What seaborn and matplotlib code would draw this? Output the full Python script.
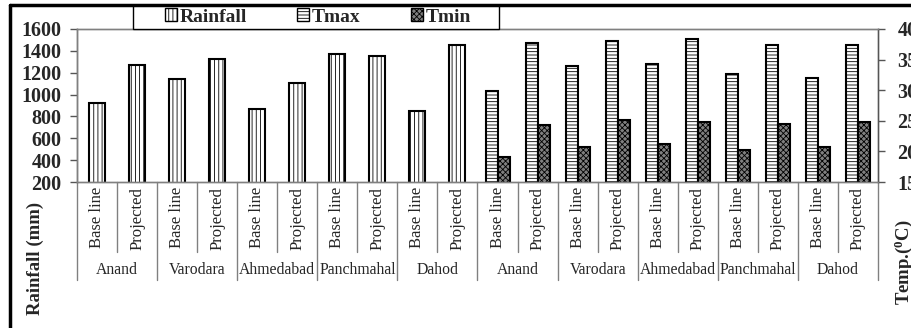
import numpy as np
import pandas as pd
import seaborn as sns
import matplotlib.pyplot as plt
from matplotlib.patches import Patch, Rectangle
from matplotlib.lines import Line2D
import matplotlib.transforms as mtransforms

districts = ["Anand", "Varodara", "Ahmedabad", "Panchmahal", "Dahod"]
periods = ["Base line", "Projected"]

# rainfall (mm), base line / projected per district
rainfall = [920, 1270, 1140, 1330, 870, 1110, 1370, 1350, 850, 1450]
# temperature (deg C)
tmax = [29.8, 37.7, 34.0, 38.1, 34.3, 38.4, 32.6, 37.4, 32.0, 37.4]
tmin = [19.1, 24.3, 20.7, 25.2, 21.2, 24.8, 20.2, 24.4, 20.7, 24.8]

rain_ticks = [200, 400, 600, 800, 1000, 1200, 1400, 1600]
temp_ticks = [15, 20, 25, 30, 35, 40]

sns.set_style("ticks")
plt.rcParams["font.family"] = ["Liberation Serif", "DejaVu Serif"]
plt.rcParams["mathtext.fontset"] = "custom"
plt.rcParams["mathtext.rm"] = "Liberation Serif:bold"
plt.rcParams["mathtext.it"] = "Liberation Serif:bold"
plt.rcParams["hatch.linewidth"] = 0.6

tmin_face = "#808080"

# 20 slots: first 10 rainfall, next 10 temperature
slots = ["r%d" % i for i in range(10)] + ["t%d" % i for i in range(10)]
rain_df = pd.DataFrame({"slot": slots[:10], "value": rainfall})
temp_df = pd.DataFrame({
    "slot": slots[10:] * 2,
    "var": ["Tmax"] * 10 + ["Tmin"] * 10,
    "value": tmax + tmin,
})

fig = plt.figure(figsize=(9.12, 3.28), dpi=100)
ax1 = fig.add_axes([77 / 912, 1 - 182 / 328, (878 - 77) / 912, (182 - 29) / 328])
ax2 = ax1.twinx()

sns.barplot(data=rain_df, x="slot", y="value", order=slots, width=0.4,
            color="white", edgecolor="black", linewidth=1.5, ax=ax1)
for p in ax1.patches:
    p.set_hatch("||||")
    p.set_facecolor("white")

sns.barplot(data=temp_df, x="slot", y="value", order=slots, hue="var",
            hue_order=["Tmax", "Tmin"], width=0.6, dodge=True,
            palette=["white", tmin_face], edgecolor="black", linewidth=1.5,
            legend=False, ax=ax2)
for p in ax2.patches:
    if p.get_facecolor()[0] > 0.9:
        p.set_hatch("-----")
    else:
        p.set_hatch("xxxxxx")

ax1.set_ylim(200, 1600)
ax1.set_yticks(rain_ticks)
ax2.set_ylim(15, 40)
ax2.set_yticks(temp_ticks)
ax1.set_xlim(-0.5, 19.5)
for ax in (ax1, ax2):
    ax.set_xlabel("")
    ax.set_ylabel("")
    ax.tick_params(axis="x", length=0, labelbottom=False)
ax1.tick_params(axis="y", length=5, width=1, color="#555555", pad=6,
                labelsize=14.5)
ax2.tick_params(axis="y", length=5, width=1, color="#555555", pad=9,
                labelsize=14.5)
for lab in ax1.get_yticklabels() + ax2.get_yticklabels():
    lab.set_fontweight("bold")

for ax in (ax1, ax2):
    for s in ax.spines.values():
        s.set_color("#808080")
        s.set_linewidth(1)
ax2.spines["right"].set_color("#555555")
ax1.spines["left"].set_color("#555555")

# multi-level category axis below the plot
trans = mtransforms.blended_transform_factory(ax1.transData, ax1.transAxes)
h = ax1.get_position().height * 328
def ay(px):
    return -px / h

for i in range(21):
    x = i - 0.5
    depth = 98 if i % 2 == 0 else 70
    ax1.add_line(Line2D([x, x], [0, ay(depth)], transform=trans,
                        color="#808080", lw=1, clip_on=False))
for i in range(20):
    ax1.text(i, ay(5), periods[i % 2], transform=trans, rotation=90,
             ha="center", va="top", fontsize=12)
for g in range(10):
    ax1.text(2 * g + 0.5, ay(88), districts[g % 5], transform=trans,
             ha="center", va="center", fontsize=11.3)

fig.text(35 / 912, 1 - 258 / 328, "Rainfall (mm)", rotation=90,
         ha="center", va="center", fontsize=13.5, fontweight="bold")
fig.text(904 / 912, 1 - 262 / 328, r"Temp.($^{0}$C)", rotation=90,
         ha="center", va="center", fontsize=13.5, fontweight="bold")

# legend box
fig.add_artist(Rectangle((133 / 912, 1 - 29 / 328), (499 - 133) / 912, 24 / 328,
                         transform=fig.transFigure, facecolor="white",
                         edgecolor="black", lw=1))
handles = [
    Patch(facecolor="white", edgecolor="black", hatch="||||", label="Rainfall"),
    Patch(facecolor="white", edgecolor="black", hatch="-----", label="Tmax"),
    Patch(facecolor=tmin_face, edgecolor="black", hatch="xxxxxx", label="Tmin"),
]
leg = fig.legend(handles=handles, loc="center", ncol=3,
                 bbox_to_anchor=(318 / 912, 1 - 17 / 328),
                 frameon=False, borderaxespad=0, handlelength=0.6,
                 handleheight=0.6, handletextpad=0.15, borderpad=0,
                 columnspacing=2.6, prop={"weight": "bold", "size": 14})

# outer frame of the original figure
fig.add_artist(Line2D([10 / 912, 1], [1 - 5 / 328, 1 - 5 / 328],
                      transform=fig.transFigure, color="black", lw=2.5))
fig.add_artist(Line2D([10 / 912, 10 / 912], [0, 1 - 5 / 328],
                      transform=fig.transFigure, color="black", lw=2.5))

fig.savefig("out.png", dpi=100)
